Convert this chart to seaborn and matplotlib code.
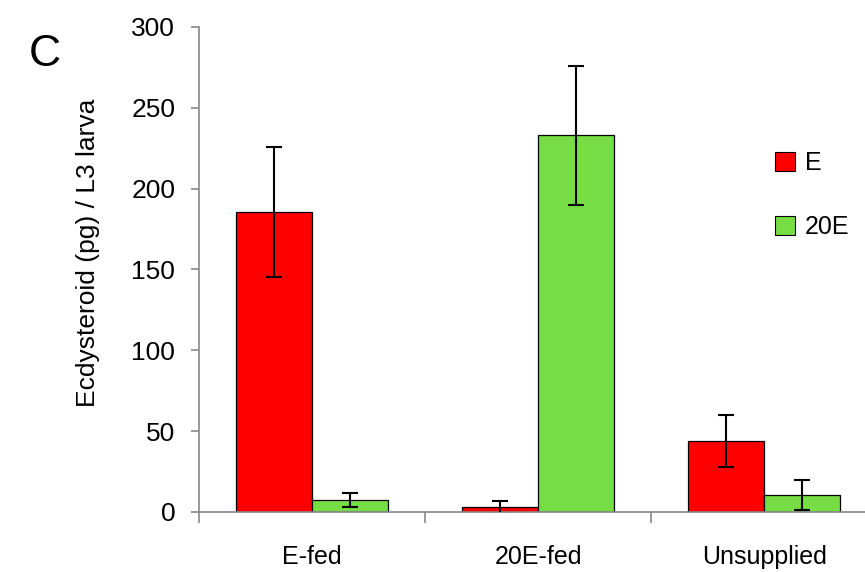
import numpy as np
import pandas as pd
import seaborn as sns
import matplotlib.pyplot as plt
from matplotlib.patches import Patch

# Data
groups = ["E-fed", "20E-fed", "Unsupplied"]
series = ["E", "20E"]
e_vals = [185.5, 3.0, 44.0]
e_err = [40.5, 4.0, 16.0]
e20_vals = [7.5, 233.0, 10.5]
e20_err = [4.5, 43.0, 9.0]

colors = {"E": "#FF0000", "20E": "#77DD44"}

df = pd.DataFrame({
    "group": groups * 2,
    "series": ["E"] * 3 + ["20E"] * 3,
    "value": e_vals + e20_vals,
    "err": e_err + e20_err,
})

sns.set_style("white")
plt.rcParams['font.family'] = ['Liberation Sans', 'DejaVu Sans']
plt.rcParams['text.color'] = 'black'
plt.rcParams['axes.labelcolor'] = 'black'

fig = plt.figure(figsize=(8.65, 5.72), dpi=100)
ax = fig.add_axes([0.230, 0.105, 0.784, 0.848])

sns.barplot(data=df, x="group", y="value", hue="series", order=groups,
            hue_order=series, palette=colors, width=0.67, errorbar=None,
            edgecolor="black", linewidth=0.9, saturation=1, legend=False, ax=ax)

# error bars at bar centres
for cont, s in zip(ax.containers, series):
    sub = df[df.series == s].set_index("group").loc[groups]
    xs = [p.get_x() + p.get_width() / 2 for p in cont.patches]
    ax.errorbar(xs, sub["value"], yerr=sub["err"], fmt="none", ecolor="black",
                elinewidth=1.5, capsize=6, capthick=1.5, zorder=5)

ax.set_xlim(-0.5, 2.5)
ax.set_ylim(0, 300)
ax.set_yticks(range(0, 301, 50))
ax.set_xlabel("")
ax.set_ylabel("Ecdysteroid (pg) / L3 larva", fontsize=19)
ax.yaxis.set_label_coords(-0.146, 0.535)

for side in ["top", "right"]:
    ax.spines[side].set_visible(False)
for side in ["left", "bottom"]:
    ax.spines[side].set_color("#888888")
    ax.spines[side].set_linewidth(1.2)

ax.tick_params(axis="y", which="major", direction="out", length=6, color="#888888",
               width=1.2, labelsize=19, labelcolor="black", left=True, pad=11)
ax.tick_params(axis="x", which="major", length=0, labelsize=18, labelcolor="black", pad=24)
ax.set_xticks([-0.5, 0.5, 1.5, 2.5], minor=True)
ax.tick_params(axis="x", which="minor", direction="out", length=8, color="#888888",
               width=1.2, bottom=True)

handles = [Patch(facecolor=colors[s], edgecolor="black", linewidth=0.8) for s in series]
fig.legend(handles, series, loc="upper left", bbox_to_anchor=(0.87, 0.775),
           frameon=False, fontsize=18, handlelength=0.8, handleheight=0.8,
           handletextpad=0.4, labelspacing=1.6)

fig.text(0.033, 0.905, "C", fontsize=32, ha="left", va="center")

fig.savefig("out.png", dpi=100)
